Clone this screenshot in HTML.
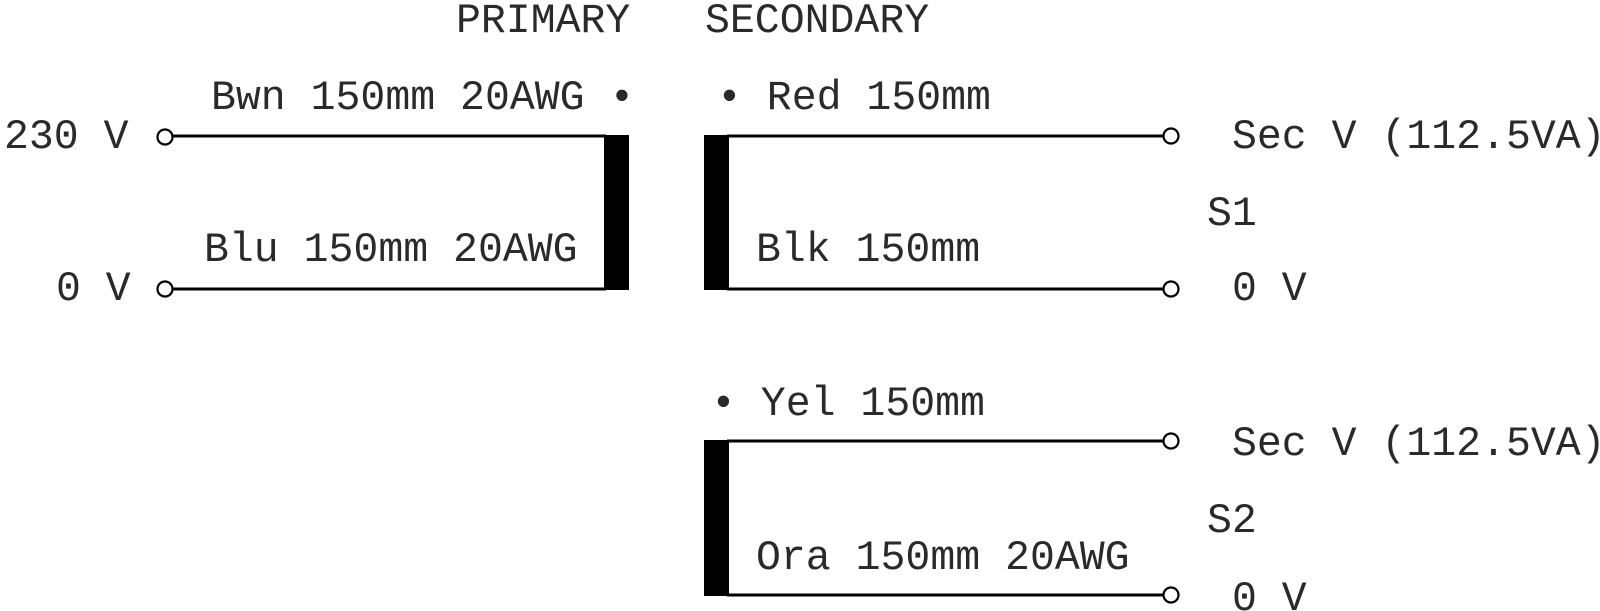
<!DOCTYPE html>
<html><head><meta charset="utf-8"><style>
html,body{margin:0;padding:0;background:#fff;}
svg{display:block;}
text{font-family:"Liberation Mono",monospace;font-size:41.5px;fill:#2a2a2a;}
</style></head><body>
<svg width="1600" height="611" viewBox="0 0 1600 611" xmlns="http://www.w3.org/2000/svg">
<g stroke="#000" stroke-width="3" fill="none">
<line x1="173" y1="136" x2="606" y2="136"/>
<line x1="173" y1="289" x2="606" y2="289"/>
<circle cx="165" cy="137" r="7.5" stroke-width="2.2"/>
<circle cx="165" cy="289" r="7.5" stroke-width="2.2"/>
<line x1="727" y1="136" x2="1163" y2="136"/>
<line x1="727" y1="289" x2="1163" y2="289"/>
<circle cx="1171" cy="136" r="7.5" stroke-width="2.2"/>
<circle cx="1171" cy="289" r="7.5" stroke-width="2.2"/>
<line x1="727" y1="441" x2="1163" y2="441"/>
<line x1="727" y1="595" x2="1163" y2="595"/>
<circle cx="1171" cy="441" r="7.5" stroke-width="2.2"/>
<circle cx="1171" cy="595" r="7.5" stroke-width="2.2"/>
</g>
<rect x="604" y="135" width="25" height="155" fill="#000"/>
<rect x="704" y="135" width="25" height="155" fill="#000"/>
<rect x="704" y="440" width="25" height="156" fill="#000"/>
<text x="456" y="32">PRIMARY</text>
<text x="705" y="32">SECONDARY</text>
<text x="211" y="109">Bwn 150mm 20AWG •</text>
<text x="4" y="148">230 V</text>
<text x="204" y="261">Blu 150mm 20AWG</text>
<text x="56" y="300">0 V</text>
<text x="717" y="109">• Red 150mm</text>
<text x="1232" y="148">Sec V (112.5VA)</text>
<text x="1207" y="225">S1</text>
<text x="756" y="261">Blk 150mm</text>
<text x="1232" y="300">0 V</text>
<text x="711" y="415">• Yel 150mm</text>
<text x="1232" y="455">Sec V (112.5VA)</text>
<text x="1207" y="532">S2</text>
<text x="756" y="569">Ora 150mm 20AWG</text>
<text x="1232" y="610">0 V</text>
</svg>
</body></html>
